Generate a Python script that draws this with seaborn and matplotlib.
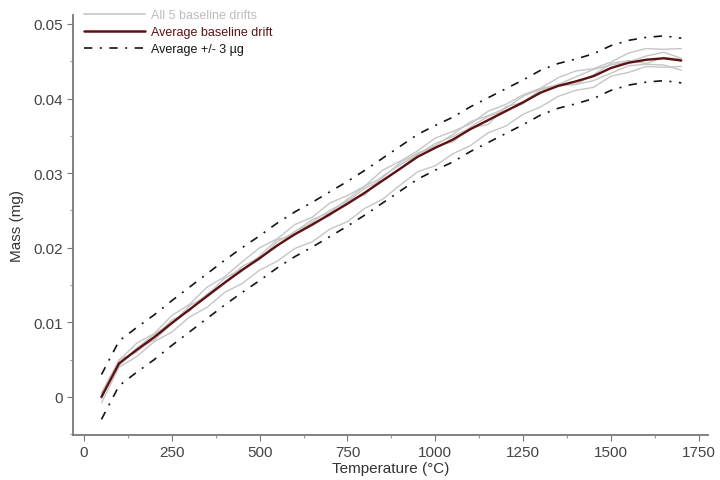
import numpy as np
import pandas as pd
import matplotlib
matplotlib.use("Agg")
import matplotlib.pyplot as plt
from matplotlib.lines import Line2D
from matplotlib.ticker import MultipleLocator, FuncFormatter
import seaborn as sns

# Furnace temperature grid (°C)
temperature = [50, 100, 150, 200, 250, 300, 350, 400, 450, 500, 550, 600,
               650, 700, 750, 800, 850, 900, 950, 1000, 1050, 1100, 1150,
               1200, 1250, 1300, 1350, 1400, 1450, 1500, 1550, 1600, 1650,
               1700]

# Baseline drift of the five blank runs (µg)
run_1 = [0.6, 4.9, 7.2, 8.5, 10.9, 12.4, 14.7, 16.1, 18.1, 20.0, 21.2, 23.1,
         24.1, 26.0, 27.0, 28.3, 30.4, 31.6, 33.0, 34.7, 35.6, 36.6, 38.3,
         39.2, 40.5, 41.4, 42.8, 43.7, 44.0, 44.9, 46.1, 46.7, 46.6, 46.7]
run_2 = [-0.8, 4.0, 5.4, 7.4, 8.7, 10.7, 12.0, 14.0, 15.2, 17.0, 18.2, 19.9,
         20.8, 22.5, 23.5, 25.3, 26.5, 28.4, 30.2, 31.0, 32.6, 33.7, 35.4,
         36.3, 37.9, 38.9, 40.3, 41.1, 41.5, 43.0, 43.5, 44.3, 44.2, 44.3]
run_3 = [0.3, 4.2, 6.5, 8.4, 9.8, 12.2, 13.6, 15.9, 17.2, 18.4, 20.8, 22.1,
         23.8, 24.7, 26.5, 28.3, 29.4, 31.4, 32.7, 33.7, 35.2, 36.9, 37.7,
         38.7, 40.3, 41.3, 41.9, 42.9, 43.9, 44.5, 44.9, 45.7, 46.2, 45.4]
run_4 = [-0.2, 5.0, 6.0, 8.1, 10.3, 11.5, 13.8, 15.3, 17.5, 18.7, 20.2, 22.2,
         23.3, 24.3, 26.2, 28.0, 29.1, 30.5, 32.6, 33.6, 34.2, 36.2, 37.6,
         38.4, 39.3, 41.2, 41.7, 41.9, 43.2, 44.7, 45.1, 44.7, 45.5, 45.3]
run_5 = [0.1, 4.4, 6.4, 7.6, 9.8, 11.7, 13.4, 15.2, 17.0, 18.9, 21.1, 21.7,
         23.5, 25.0, 26.3, 27.1, 29.6, 31.1, 32.5, 34.0, 34.9, 36.1, 36.5,
         38.9, 39.5, 41.2, 41.8, 41.9, 42.4, 43.4, 44.4, 44.6, 44.5, 43.8]

band_ug = 3.0  # tolerance around the average (µg)

runs = [run_1, run_2, run_3, run_4, run_5]

# Long-form table, masses converted to mg
df_runs = pd.DataFrame({
    "T": np.tile(temperature, len(runs)),
    "mass": np.concatenate(runs) / 1000.0,
    "run": np.repeat(np.arange(1, len(runs) + 1), len(temperature)),
})
avg_mg = np.mean(np.array(runs), axis=0) / 1000.0
df_avg = pd.DataFrame({
    "T": temperature,
    "avg": avg_mg,
    "upper": avg_mg + band_ug / 1000.0,
    "lower": avg_mg - band_ug / 1000.0,
})

sns.set_theme(style="white")
plt.rcParams["font.family"] = ["Liberation Sans", "DejaVu Sans"]

fig = plt.figure(figsize=(7.2, 4.81), dpi=100)
ax = fig.add_axes([73 / 720, 1 - 436 / 481, (708 - 73) / 720, (436 - 16) / 481])

gray = "#c6c6c6"
red = "#5e1111"
dashdot = (0, (5, 4.5, 1.2, 4.5))

sns.lineplot(data=df_runs, x="T", y="mass", units="run", estimator=None,
             color=gray, linewidth=1.0, ax=ax, legend=False)
sns.lineplot(data=df_avg, x="T", y="avg", color=red, linewidth=1.7, ax=ax)
sns.lineplot(data=df_avg, x="T", y="upper", color="#151515", linewidth=1.2,
             linestyle=dashdot, ax=ax)
sns.lineplot(data=df_avg, x="T", y="lower", color="#151515", linewidth=1.2,
             linestyle=dashdot, ax=ax)

ax.set_xlim(-31, 1776)
ax.set_ylim(-0.0051, 0.0512)
ax.xaxis.set_major_locator(MultipleLocator(250))
ax.xaxis.set_minor_locator(MultipleLocator(125))
ax.yaxis.set_major_locator(MultipleLocator(0.01))
ax.yaxis.set_minor_locator(MultipleLocator(0.005))
ax.yaxis.set_major_formatter(FuncFormatter(
    lambda v, p: "0" if abs(v) < 1e-9 else f"{v:.2f}"))

spine_c = "#777777"
for side in ("top", "right"):
    ax.spines[side].set_visible(False)
for side in ("left", "bottom"):
    ax.spines[side].set_color(spine_c)
    ax.spines[side].set_linewidth(1.3)

ax.tick_params(which="major", direction="out", length=4, width=0.8,
               color=spine_c, labelsize=11, labelcolor="#444444",
               bottom=True, left=True, pad=3)
ax.tick_params(which="minor", direction="out", length=2, width=0.8,
               color="#999999", bottom=True, left=True)

ax.set_xlabel("Temperature (°C)", fontsize=11, color="#333333", labelpad=2)
ax.set_ylabel("Mass (mg)", fontsize=11, color="#333333", labelpad=7)

handles = [
    Line2D([], [], color=gray, linewidth=1.2),
    Line2D([], [], color=red, linewidth=1.8),
    Line2D([], [], color="#151515", linewidth=1.2, linestyle=dashdot),
]
labels = ["All 5 baseline drifts", "Average baseline drift",
          "Average +/- 3 µg"]
leg = fig.legend(handles, labels, loc="upper left",
                 bbox_to_anchor=(84 / 720, 1 - 10 / 481), frameon=False,
                 fontsize=9, handlelength=4.9, handletextpad=0.45,
                 labelspacing=0.42, borderaxespad=0.0, borderpad=0.0)
for txt, c in zip(leg.get_texts(), ["#bdbdbd", red, "#151515"]):
    txt.set_color(c)

fig.savefig("out.png", dpi=100)
